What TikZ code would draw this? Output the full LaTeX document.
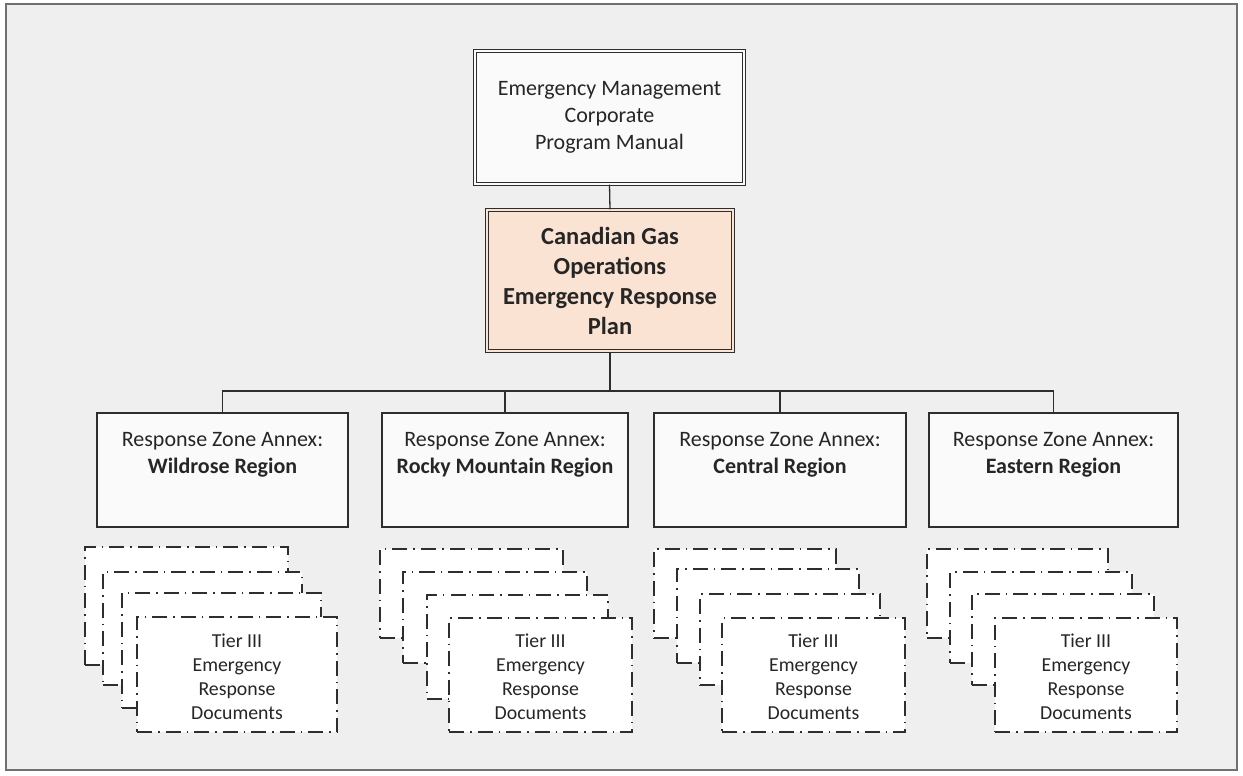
\documentclass[tikz,border=0pt]{standalone}
\usepackage{fontspec}
\setmainfont{Carlito}
\definecolor{ink}{HTML}{2E2E2E}
\definecolor{txt}{HTML}{262626}
\definecolor{paper}{HTML}{EFEFEF}
\definecolor{boxfill}{HTML}{FAFAFA}
\definecolor{peach}{HTML}{FBE3D3}
\definecolor{framegray}{HTML}{707070}
\begin{document}
\begin{tikzpicture}[x=1bp,y=-1bp,
  every node/.style={text=txt},
  plainbox/.style={draw=ink, line width=1.1bp, double=boxfill, double distance=2.4bp,
    fill=boxfill, inner sep=0pt, align=center,
    font=\fontsize{22bp}{27bp}\selectfont},
  planbox/.style={draw=ink, line width=1.1bp, double=peach, double distance=2.4bp,
    fill=peach, inner sep=0pt, align=center,
    font=\fontsize{24.5bp}{30bp}\selectfont\bfseries},
  regionbox/.style={draw=ink, line width=1.3bp, fill=boxfill, inner sep=0pt,
    minimum height=114bp},
  regiontext/.style={align=center, inner sep=0pt,
    font=\fontsize{22bp}{27bp}\selectfont},
  docsheet/.style={draw=ink, line width=1.2bp, fill=white, inner sep=0pt,
    dash pattern=on 15bp off 6bp on 1.5bp off 6bp},
  doctext/.style={align=center, inner sep=0pt,
    font=\fontsize{19.8bp}{24bp}\selectfont},
  link/.style={draw=ink, line width=1.3bp}
]
\useasboundingbox (0,0) rectangle (1243,776);

% page frame
\draw[framegray, line width=1.5bp, fill=paper] (6,4) rectangle (1237,770);

% top of the hierarchy
\node[plainbox, minimum width=269bp, minimum height=133bp] (manual) at (609.5,117.5)
  {Emergency Management\\Corporate\\Program Manual};
\node[planbox, minimum width=246bp, minimum height=141bp] (plan) at (610,280.5)
  {Canadian Gas\\Operations\\Emergency Response\\Plan};

% regional annexes
\node[regionbox, minimum width=251bp] (r1) at (222.5,470) {};
\node[regionbox, minimum width=246bp] (r2) at (505,470) {};
\node[regionbox, minimum width=252bp] (r3) at (780,470) {};
\node[regionbox, minimum width=249bp] (r4) at (1053.5,470) {};
\node[regiontext] (t1) at (r1 |- 0,455) {Response Zone Annex:\\\textbf{Wildrose Region}};
\node[regiontext] (t2) at (r2 |- 0,455) {Response Zone Annex:\\\textbf{Rocky Mountain Region}};
\node[regiontext] (t3) at (r3 |- 0,455) {Response Zone Annex:\\\textbf{Central Region}};
\node[regiontext] (t4) at (r4 |- 0,455) {Response Zone Annex:\\\textbf{Eastern Region}};

% connectors
\coordinate (bus) at (610,391);
\draw[link] (manual.south) -- (plan.north);
\draw[link] (plan.south) -- (bus);
\draw[link] (r1.north) |- (bus) -| (r4.north);
\draw[link] (r2.north) -- (r2.north |- bus);
\draw[link] (r3.north) -- (r3.north |- bus);

% stacks of tier III documents, drawn back to front
\foreach \n/\xa/\ya/\xb/\yb in {
    a1/85/547/288/665,  a2/103/572/302/685,  a3/122/593/321/708,  a4/137/617/337/732,
    b1/380/549/563/638, b2/403/572/587/663,  b3/427/595/608/699,  b4/449/618/632/732,
    c1/654/549/836/638, c2/677/569/859/663,  c3/700/594/880/685,  c4/722/618/905/732,
    d1/927/549/1108/638,d2/950/572/1132/663, d3/972/594/1154/685, d4/995/618/1177/732}
  \node[docsheet, minimum width={(\xb-\xa)*1bp}, minimum height={(\yb-\ya)*1bp}]
    (\n) at ({(\xa+\xb)/2},{(\ya+\yb)/2}) {};

\foreach \n in {a4,b4,c4,d4}
  \node[doctext] (\n t) at ([yshift=-2bp]\n.center) {Tier III\\Emergency\\Response\\Documents};
\end{tikzpicture}
\end{document}
